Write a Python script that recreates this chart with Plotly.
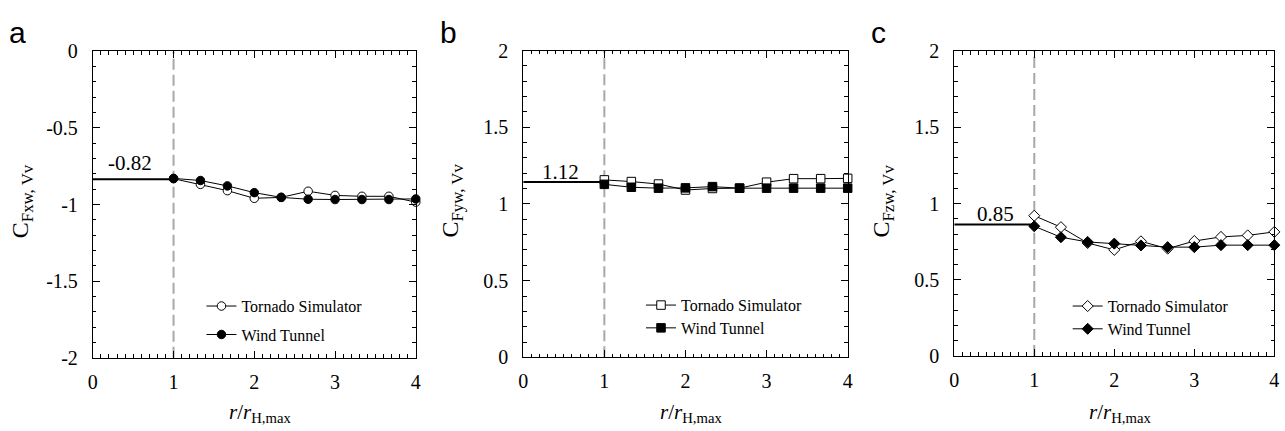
import plotly.graph_objects as go

# ---------------- data ----------------
r_ratio = [1.0, 1.333, 1.667, 2.0, 2.333, 2.667, 3.0, 3.333, 3.667, 4.0]

fx_tornado = [-0.831, -0.868, -0.909, -0.959, -0.953, -0.913, -0.940, -0.946, -0.946, -0.984]
fx_wind = [-0.829, -0.843, -0.878, -0.922, -0.953, -0.965, -0.967, -0.967, -0.967, -0.963]

fy_tornado = [1.157, 1.146, 1.130, 1.091, 1.101, 1.103, 1.142, 1.165, 1.165, 1.167]
fy_wind = [1.128, 1.109, 1.103, 1.105, 1.113, 1.103, 1.103, 1.103, 1.103, 1.103]

fz_tornado = [0.920, 0.845, 0.741, 0.696, 0.752, 0.704, 0.754, 0.781, 0.791, 0.814]
fz_wind = [0.851, 0.779, 0.748, 0.737, 0.725, 0.714, 0.714, 0.727, 0.727, 0.727]

baseline_x = [0, 1]
baseline_values = [-0.835, 1.144, 0.862]
baseline_labels = ["-0.82", "1.12", "0.85"]
baseline_label_x = [0.46, 0.46, 0.51]

panel_letters = ["a", "b", "c"]
y_subscripts = ["Fxw, Vv", "Fyw, Vv", "Fzw, Vv"]
y_ranges = [[-2, 0], [0, 2], [0, 2]]
y_tickvals = [[0, -0.5, -1, -1.5, -2], [0, 0.5, 1, 1.5, 2], [0, 0.5, 1, 1.5, 2]]
y_ticktext = [["0", "-0.5", "-1", "-1.5", "-2"], ["0", "0.5", "1", "1.5", "2"], ["0", "0.5", "1", "1.5", "2"]]
x_tickvals = [0, 1, 2, 3, 4]
x_ticktext = ["0", "1", "2", "3", "4"]
series_names = ["Tornado Simulator", "Wind Tunnel"]

# ---------------- layout geometry (pixels) ----------------
W, H = 1285, 431
plot_px = [  # left, right, top, bottom
    (88.5, 414.0, 42.5, 365.5),
    (522.3, 849.3, 41.7, 365.0),
    (956.7, 1279.3, 42.3, 363.5),
]
fill_symbols = ["circle", "square", "diamond"]
label_shift = [16, 10, 11]
legend_rows = [(204, 311, 341), (647, 310, 334), (1077, 311, 335)]

series = [(fx_tornado, fx_wind), (fy_tornado, fy_wind), (fz_tornado, fz_wind)]

serif = "Liberation Serif"
fig = go.Figure()
annotations = []
layout_axes = {}

for i in range(3):
    L, R, T, B = plot_px[i]
    xa = "x" if i == 0 else f"x{i+1}"
    ya = "y" if i == 0 else f"y{i+1}"
    xkey = "xaxis" if i == 0 else f"xaxis{i+1}"
    ykey = "yaxis" if i == 0 else f"yaxis{i+1}"
    common = dict(
        showgrid=False, zeroline=False, showline=True, linecolor="black", linewidth=1,
        mirror="allticks", ticks="inside", ticklen=7, tickwidth=1, tickcolor="black",
        tickfont=dict(family=serif, size=20, color="black"),
        minor=dict(ticks="inside", ticklen=3.5, tickwidth=1, tickcolor="black", dtick=0.1),
    )
    layout_axes[xkey] = dict(
        common, domain=[L / W, R / W], range=[0, 4], anchor=ya, ticklabelstandoff=6,
        tickmode="array", tickvals=x_tickvals, ticktext=x_ticktext,
    )
    layout_axes[ykey] = dict(
        common, domain=[1 - B / H, 1 - T / H], range=y_ranges[i], anchor=xa, ticklabelstandoff=10,
        tickmode="array", tickvals=y_tickvals[i], ticktext=y_ticktext[i],
    )

    # baseline thick line from 0 to 1
    fig.add_trace(go.Scatter(
        x=baseline_x, y=[baseline_values[i]] * 2, xaxis=xa, yaxis=ya,
        mode="lines", line=dict(color="black", width=2), showlegend=False, hoverinfo="skip",
    ))
    # dashed vertical line at x=1
    fig.add_trace(go.Scatter(
        x=[1, 1], y=y_ranges[i], xaxis=xa, yaxis=ya, mode="lines",
        line=dict(color="#a8a8a8", width=2, dash="11px,5px"), showlegend=False, hoverinfo="skip",
    ))

    tor, wind = series[i]
    leg1 = "legend" if i == 0 else f"legend{2*i+1}"
    leg2 = f"legend{2*i+2}"
    fig.add_trace(go.Scatter(
        x=r_ratio, y=tor, xaxis=xa, yaxis=ya, mode="lines+markers", name=series_names[0],
        line=dict(color="black", width=1),
        marker=dict(symbol=fill_symbols[i], size=8.5, color="white",
                    line=dict(color="black", width=1)),
        cliponaxis=False, legend=leg1,
    ))
    fig.add_trace(go.Scatter(
        x=r_ratio, y=wind, xaxis=xa, yaxis=ya, mode="lines+markers", name=series_names[1],
        line=dict(color="black", width=1),
        marker=dict(symbol=fill_symbols[i], size=8.5, color="black",
                    line=dict(color="black", width=1)),
        cliponaxis=False, legend=leg2,
    ))

    # legends (one per entry for exact placement)
    lx, ly1, ly2 = legend_rows[i]
    for key, ly in ((leg1, ly1), (leg2, ly2)):
        layout_axes[key] = dict(
            x=(lx - 6) / W, y=1 - ly / H, xanchor="left", yanchor="middle",
            bgcolor="rgba(0,0,0,0)", borderwidth=0, itemwidth=30,
            font=dict(family=serif, size=16, color="black"),
        )

    # baseline value label
    annotations.append(dict(
        x=baseline_label_x[i], y=baseline_values[i], xref=xa, yref=ya,
        text=baseline_labels[i], showarrow=False, yshift=label_shift[i],
        font=dict(family=serif, size=21, color="black"),
    ))
    # panel letter
    annotations.append(dict(
        x=(L - 86) / W, y=1 - 23 / H, xref="paper", yref="paper", xanchor="left", yanchor="middle",
        text=panel_letters[i], showarrow=False,
        font=dict(family="Liberation Sans", size=30, color="black"),
    ))
    # y axis title
    annotations.append(dict(
        x=(L - 72) / W, y=1 - 200 / H, xref="paper", yref="paper", xanchor="center", yanchor="middle",
        text="C<sub>" + y_subscripts[i] + "</sub>", textangle=-90, showarrow=False,
        font=dict(family=serif, size=24, color="black"),
    ))
    # x axis title
    annotations.append(dict(
        x=((L + R) / 2 + 6) / W, y=1 - 424 / H, xref="paper", yref="paper", xanchor="center", yanchor="middle",
        text="<i>r</i>/<i>r</i><sub>H,max</sub>", showarrow=False,
        font=dict(family=serif, size=21, color="black"),
    ))

fig.update_layout(
    width=W, height=H, margin=dict(l=0, r=0, t=0, b=0),
    paper_bgcolor="white", plot_bgcolor="white",
    annotations=annotations, showlegend=True,
    **layout_axes,
)
fig.write_html("out.html")
